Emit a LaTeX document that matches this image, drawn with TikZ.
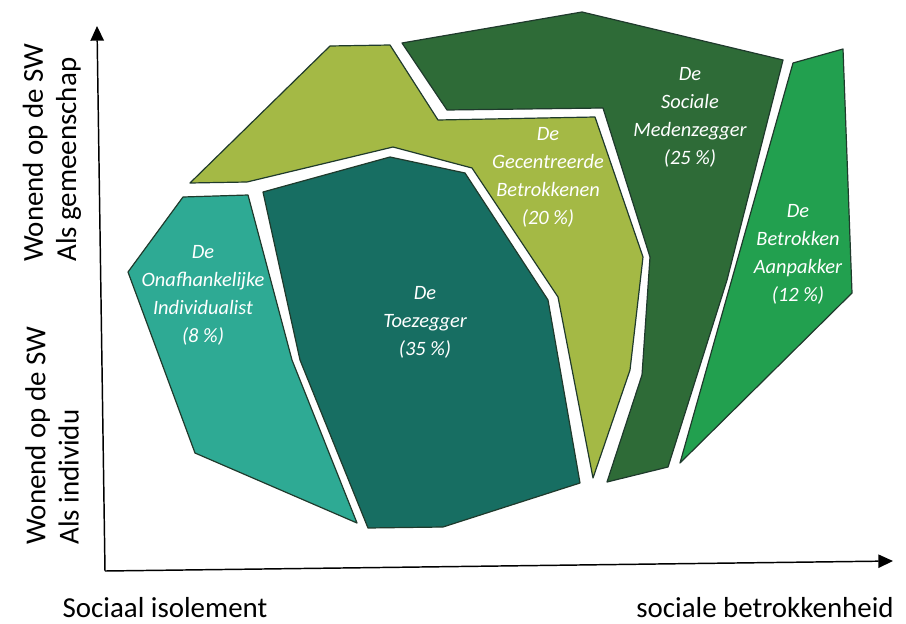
\documentclass[tikz,border=0pt]{standalone}
\usepackage{fontspec}
\setmainfont{Carlito}
\usetikzlibrary{arrows.meta}
\definecolor{tealL}{HTML}{2EAA94}
\definecolor{tealD}{HTML}{176E62}
\definecolor{limeG}{HTML}{A4B945}
\definecolor{darkG}{HTML}{2E6B37}
\definecolor{midG}{HTML}{22A04F}
\definecolor{rim}{HTML}{1F3A2C}
\tikzset{
  seg/.style={draw=rim, line width=0.9pt, line join=round},
  lbl/.style={text=white, align=center, font=\fontsize{15.3}{21}\selectfont\itshape},
  axlbl/.style={font=\fontsize{21.7}{25}\selectfont, inner sep=0},
  axis/.style={line width=1.1pt, -{Triangle[length=11pt,width=10pt]}}
}

\begin{document}
\begin{tikzpicture}[x=0.75pt,y=-0.75pt]
\useasboundingbox (0,0) rectangle (906,624);
\draw[seg, fill=limeG] (330,46) -- (390,45) -- (438,120) -- (595,117) -- (643,257) -- (630,370) -- (593,478) -- (558,297) -- (472,168) -- (393,147) -- (247,182) -- (190,183) -- cycle;
\draw[seg, fill=darkG] (402,43) -- (582,12) -- (783,60) -- (727,280) -- (668,467) -- (607,482) -- (642,375) -- (650,257) -- (603,108) -- (447,110) -- cycle;
\draw[seg, fill=midG] (793,63) -- (843,49) -- (852,293) -- (680,463) -- cycle;
\draw[seg, fill=tealL] (183,197) -- (248,195) -- (292,360) -- (357,523) -- (195,453) -- (128,272) -- cycle;
\draw[seg, fill=tealD] (263,192) -- (390,157) -- (465,173) -- (548,300) -- (580,483) -- (443,527) -- (368,528) -- (300,360) -- cycle;

\node[lbl] (onaf) at (203,295) {De\\Onafhankelijke\\Individualist\\(8 \%)};
\node[lbl] (toez) at (425,322) {De\\Toezegger\\(35 \%)};
\node[lbl] (gecen) at (548,177) {De\\Gecentreerde\\Betrokkenen\\(20 \%)};
\node[lbl] (medez) at (690,117) {De\\Sociale\\Medenzegger\\(25 \%)};
\node[lbl] (aanp) at (798,254) {De\\Betrokken\\Aanpakker\\(12 \%)};

\coordinate (O) at (105,571);
\coordinate (ytop) at (97,26);
\coordinate (xend) at (893,561);
\draw[axis] (O) -- (ytop);
\draw[axis] (O) -- (xend);

\node[axlbl, rotate=90, anchor=west, align=left] (gem) at (52,262) {Wonend op de SW\\Als gemeenschap};
\node[axlbl, rotate=90, anchor=west, align=left] (indiv) at (52,545) {Wonend op de SW\\Als individu};
\node[axlbl] (iso) at (165,608) {Sociaal isolement};
\node[axlbl] (betr) at (765,608) {sociale betrokkenheid};
\end{tikzpicture}
\end{document}
